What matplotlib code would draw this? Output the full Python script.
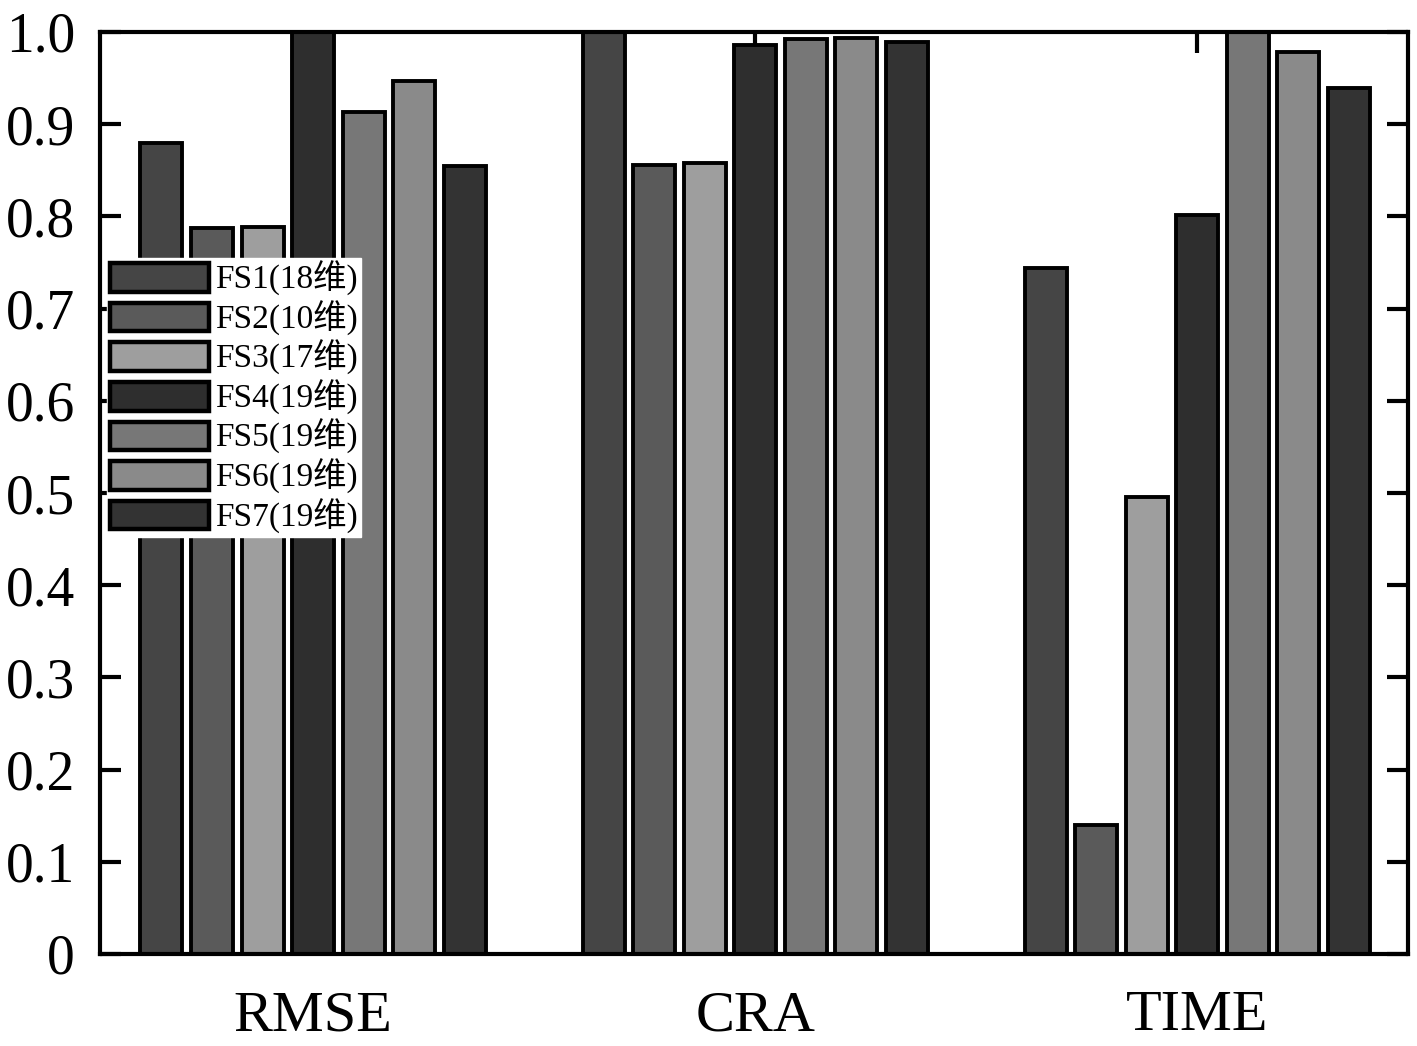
import numpy as np
import matplotlib.pyplot as plt

# 各特征集在三项指标上的归一化结果
categories = ['RMSE', 'CRA', 'TIME']
series_names = ['FS1(18维)', 'FS2(10维)', 'FS3(17维)', 'FS4(19维)',
                'FS5(19维)', 'FS6(19维)', 'FS7(19维)']
fs1 = [0.880, 1.000, 0.744]
fs2 = [0.787, 0.856, 0.140]
fs3 = [0.789, 0.858, 0.496]
fs4 = [1.000, 0.986, 0.801]
fs5 = [0.913, 0.992, 1.000]
fs6 = [0.947, 0.993, 0.978]
fs7 = [0.855, 0.989, 0.939]
values = [fs1, fs2, fs3, fs4, fs5, fs6, fs7]
colors = ['#454545', '#5a5a5a', '#9e9e9e', '#2e2e2e', '#777777', '#8a8a8a', '#333333']

plt.rcParams['font.family'] = ['Liberation Serif', 'Noto Sans CJK SC']

fig = plt.figure(figsize=(14.17, 10.46), dpi=100)
ax = fig.add_axes([100/1417, 1 - 954/1046, 1308/1417, 922/1046])

x = np.arange(1, len(categories) + 1)
step = 0.1143
width = 0.095
for i, (name, vals, c) in enumerate(zip(series_names, values, colors)):
    ax.bar(x + (i - 3) * step, vals, width, color=c, edgecolor='black',
           linewidth=2.8, label=name, zorder=2)

ax.set_xlim(0.518, 3.477)
ax.set_ylim(0, 1.0)
ax.set_xticks(x)
ax.set_xticklabels(categories, fontsize=42)
ax.set_yticks(np.arange(0, 1.01, 0.1))
ax.set_yticklabels(['0'] + [f'{v:.1f}' for v in np.arange(0.1, 1.01, 0.1)], fontsize=40)
ax.tick_params(direction='in', length=15, width=3, top=True, right=True, zorder=3)
ax.tick_params(axis='x', pad=26)
ax.tick_params(axis='y', pad=18)
for s in ax.spines.values():
    s.set_linewidth(3)
    s.set_zorder(4)

leg = ax.legend(loc='upper left', bbox_to_anchor=(0.0054, 0.755), fontsize=24,
                frameon=True, fancybox=False, edgecolor='white', framealpha=1,
                handlelength=2.95, handleheight=0.94, handletextpad=0.2,
                labelspacing=0.13, borderpad=0.1, borderaxespad=0.0)
leg.set_zorder(5)
for h in leg.legend_handles:
    h.set_linewidth(3.2)

plt.savefig('out.png', dpi=100)
